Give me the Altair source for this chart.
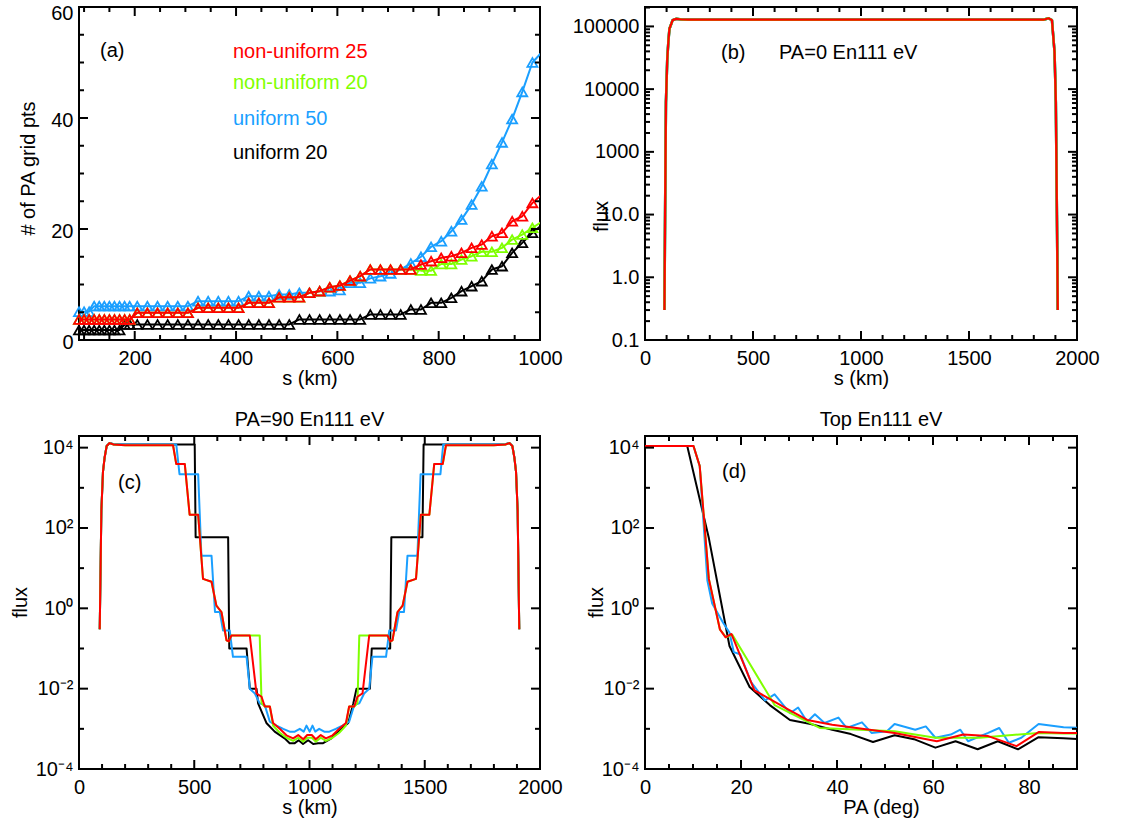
import altair as alt
import pandas as pd

FONT = "Liberation Sans"
FS = 20
WL, WR, H = 461, 432, 333
BLACK, BLUE, GREEN, RED = "#000000", "#1A9FFF", "#7FFF00", "#FF0000"

# ---------------- panel (a): number of PA grid points vs s ----------------
a_s = [90, 100, 110, 120, 130, 140, 150, 160, 170, 180, 190,
       205, 225, 245, 265, 285, 305, 325, 345, 365, 385, 405, 425, 445, 465,
       485, 505, 525, 545, 565, 585, 605, 625, 645, 665, 685, 705, 725, 745,
       765, 785, 805, 825, 845, 865, 885, 905, 925, 945, 965, 985, 1005]
a_nonuni25 = [3.7, 3.7, 3.7, 3.7, 3.7, 3.7, 3.7, 3.7, 3.7, 3.7, 3.7,
              4.9, 4.9, 4.9, 4.9, 4.9, 4.9, 5.8, 5.8, 5.8, 5.8, 5.8, 6.7, 6.7, 6.7,
              7.7, 7.7, 7.7, 8.5, 8.8, 9.5, 9.8, 10.7, 11.5, 12.7, 12.7, 12.7, 12.7, 12.7,
              13.6, 14.2, 14.8, 15.1, 15.7, 16.6, 17.2, 18.7, 19.3, 21.4, 22.3, 24.7, 26.3]
a_nonuni20 = [3.7, 3.7, 3.7, 3.7, 3.7, 3.7, 3.7, 3.7, 3.7, 3.7, 3.7,
              4.9, 4.9, 4.9, 4.9, 4.9, 4.9, 5.8, 5.8, 5.8, 5.8, 5.8, 6.7, 6.7, 6.7,
              7.7, 7.7, 7.7, 8.5, 8.8, 9.5, 9.8, 10.7, 11.5, 12.7, 12.7, 12.7, 12.7, 12.7,
              12.5, 12.5, 13.7, 13.7, 14.5, 15.1, 15.9, 15.9, 16.6, 18.1, 19.0, 20.2, 21.4]
a_uni50 = [5.1, 5.1, 5.1, 6.1, 6.1, 6.1, 6.1, 6.1, 6.1, 6.1, 6.1,
           6.1, 6.1, 6.1, 6.1, 6.1, 6.1, 7.0, 7.0, 7.0, 7.0, 7.0, 7.9, 7.9, 7.9,
           8.2, 8.2, 8.5, 8.5, 8.8, 8.8, 9.0, 10.3, 10.3, 11.1, 11.5, 12.0, 12.7, 13.8,
           15.0, 16.8, 17.8, 19.6, 21.7, 24.4, 27.7, 31.7, 35.6, 39.8, 44.7, 50.0, 52.0]
a_uni20 = [1.8, 1.8, 1.8, 1.8, 1.8, 1.8, 1.8, 1.8, 1.8, 2.8, 2.8,
           2.8, 2.8, 2.8, 2.8, 2.8, 2.8, 2.8, 2.8, 2.8, 2.8, 2.8, 2.8, 2.8, 2.8,
           2.8, 2.8, 3.7, 3.7, 3.7, 3.7, 3.7, 3.7, 3.7, 4.6, 4.6, 4.6, 4.6, 5.5,
           5.5, 6.7, 6.7, 7.6, 8.8, 9.7, 10.6, 12.7, 13.3, 15.7, 17.5, 19.3, 20.8]
a_legend = ["non-uniform 25", "non-uniform 20", "uniform 50", "uniform 20"]

# ---------------- panel (b): PA=0 flux vs s ----------------
b_s = [90, 93, 97, 103, 108, 113, 128, 144, 170, 200, 1000, 1845, 1868, 1884, 1896, 1902, 1907, 1911]
b_flux = [0.3, 10, 620, 3000, 5600, 9100, 12600, 13200, 12900, 12800, 12800, 12800, 13500, 12600,
          3900, 620, 10, 0.3]

# ---------------- panel (c): PA=90 flux vs s ----------------
c_black_s = [90, 97, 104, 111, 120, 133, 150, 200, 502, 506, 647, 652, 727, 741, 770, 777,
             813, 849, 892, 914, 936, 953, 972, 994, 1016, 1037, 1059, 1095, 1124, 1168, 1190, 1204,
             1262, 1270, 1350, 1355, 1490, 1495, 1800, 1850, 1867, 1880, 1889, 1896, 1903, 1910]
c_black_f = [0.3, 270, 2500, 5600, 11000, 13000, 12200, 12000, 12000, 59, 59, 0.1, 0.1, 0.01, 0.01, 0.0043,
             0.0014, 0.00085, 0.00058, 0.00044, 0.00044, 0.00052, 0.00042, 0.00052, 0.00042, 0.00044,
             0.00044, 0.00058, 0.00085, 0.0014, 0.0043, 0.01,
             0.01, 0.1, 0.1, 59, 59, 12000, 12000, 12200, 13000, 11000, 5600, 2500, 270, 0.3]
c_blue_s = [90, 97, 104, 111, 120, 133, 150, 200, 422, 436, 517, 531, 575, 590, 611, 625,
            654, 668, 727, 741, 763, 784, 806, 828, 857, 886, 914, 936, 958, 975, 987, 1001,
            1013, 1025, 1042, 1064, 1086, 1114, 1143, 1172, 1194, 1216, 1237, 1259, 1273, 1332, 1346, 1375,
            1389, 1410, 1425, 1468, 1482, 1568, 1580, 1800, 1850, 1867, 1880, 1889, 1896, 1903, 1910]
c_blue_f = [0.3, 270, 2500, 5600, 11000, 13000, 12200, 12000, 12000, 2190, 2190, 20.4, 20.4, 0.81, 0.81, 0.28,
            0.28, 0.062, 0.062, 0.01, 0.0076, 0.0043, 0.0039, 0.0015, 0.0012, 0.001, 0.00085, 0.00085,
            0.001, 0.00085, 0.0012, 0.00085,
            0.0012, 0.00085, 0.001, 0.00085, 0.00085, 0.001, 0.0012, 0.0015, 0.0039, 0.0043, 0.0076, 0.01,
            0.062, 0.062, 0.28, 0.28,
            0.81, 0.81, 20.4, 20.4, 2190, 2190, 12000, 12000, 12200, 13000, 11000, 5600, 2500, 270, 0.3]
c_green_s = [90, 97, 104, 111, 120, 133, 150, 200, 408, 422, 459, 480, 517, 538, 575, 596,
             618, 640, 650, 661, 784, 792, 806, 828, 842, 871, 900, 929, 951, 973, 990, 1010,
             1027, 1049, 1071, 1100, 1129, 1158, 1172, 1194, 1208, 1216, 1339, 1350, 1360, 1382, 1404, 1425,
             1462, 1483, 1520, 1541, 1578, 1592, 1800, 1850, 1867, 1880, 1889, 1896, 1903, 1910]
c_green_f = [0.3, 270, 2500, 5600, 11000, 13000, 12000, 11500, 11500, 3900, 3900, 214, 214, 5.4, 4.6, 1.17,
             0.81, 0.16, 0.15, 0.21, 0.21, 0.0043, 0.0036, 0.0036, 0.0012, 0.0008, 0.0006, 0.0005,
             0.0006, 0.00048, 0.0006, 0.0006,
             0.00048, 0.0006, 0.0005, 0.0006, 0.0008, 0.0012, 0.0036, 0.0036, 0.0043, 0.21, 0.21, 0.15,
             0.16, 0.81, 1.17, 4.6,
             5.4, 214, 214, 3900, 3900, 11500, 11500, 12000, 13000, 11000, 5600, 2500, 270, 0.3]
c_red_s = [90, 97, 104, 111, 120, 133, 150, 200, 408, 422, 459, 480, 517, 538, 575, 596,
           618, 640, 650, 661, 741, 770, 792, 806, 828, 842, 871, 900, 929, 951, 973, 990,
           1010, 1027, 1049, 1071, 1100, 1129, 1158, 1172, 1194, 1208, 1230, 1259, 1339, 1350, 1360, 1382,
           1404, 1425, 1462, 1483, 1520, 1541, 1578, 1592, 1800, 1850, 1867, 1880, 1889, 1896, 1903, 1910]
c_red_f = [0.3, 270, 2500, 5600, 11000, 13000, 12000, 11500, 11500, 3900, 3900, 214, 214, 5.4, 4.6, 1.17,
           0.81, 0.16, 0.15, 0.21, 0.21, 0.0076, 0.0063, 0.0036, 0.0036, 0.0014, 0.001, 0.00069,
           0.00058, 0.0007, 0.00055, 0.0007,
           0.0007, 0.00055, 0.0007, 0.00058, 0.00069, 0.001, 0.0014, 0.0036, 0.0036, 0.0063, 0.0076, 0.21,
           0.21, 0.15, 0.16, 0.81,
           1.17, 4.6, 5.4, 214, 214, 3900, 3900, 11500, 11500, 12000, 13000, 11000, 5600, 2500, 270, 0.3]

# ---------------- panel (d): flux at top vs PA ----------------
d_black_pa = [0, 8.8, 13.3, 17.6, 21.8, 26.0, 30.2, 34.5, 39.0, 42.9, 47.5, 52.0, 56.3, 60.5,
              64.7, 69.3, 73.5, 77.7, 82.0, 87.2, 90]
d_black_f = [11000, 11000, 56, 0.115, 0.011, 0.0039, 0.00166, 0.00132, 0.00095, 0.00074, 0.00047,
             0.00069, 0.00054, 0.00034, 0.00049, 0.00031, 0.00049, 0.00031, 0.00062, 0.00058, 0.00056]
d_blue_pa = [0, 10.1, 11.4, 13.0, 14.0, 16.3, 17.6, 18.5, 19.8, 22.1, 25.0, 27.0, 30.2, 31.9, 33.8,
             35.4, 37.4, 40.3, 42.0, 45.2, 47.2, 50.4, 52.0, 56.3, 58.5, 60.5, 63.7, 65.7, 67.3,
             71.5, 73.8, 75.8, 78.4, 82.0, 87.2, 90]
d_blue_f = [11000, 11000, 3500, 4.9, 1.32, 0.43, 0.25, 0.081, 0.072, 0.0145, 0.0051, 0.0072,
            0.00245, 0.0034, 0.0015, 0.0023, 0.0014, 0.0019, 0.00105, 0.00145, 0.00079, 0.00087,
            0.00132, 0.00095, 0.00115, 0.0006, 0.00072, 0.00095, 0.00049, 0.00079, 0.00105, 0.00045,
            0.0006, 0.00132, 0.0011, 0.00107]
d_green_pa = [0, 10.1, 11.4, 13.3, 15.6, 16.9, 18.2, 27.0, 36.4, 52.0, 60.5, 69.7, 82.0, 87.2, 90]
d_green_f = [11000, 11000, 3500, 5.4, 0.3, 0.19, 0.22, 0.0039, 0.00105, 0.00087, 0.0006, 0.0006,
             0.00079, 0.00076, 0.00076]
d_red_pa = [0, 10.1, 11.4, 13.3, 15.6, 16.8, 18.0, 22.8, 29.9, 33.8, 39.0, 46.8, 52.0, 60.8,
            66.3, 71.5, 77.4, 82.0, 87.2, 90]
d_red_f = [11000, 11000, 3500, 5.4, 0.3, 0.19, 0.23, 0.0091, 0.003, 0.00166, 0.00126, 0.00095,
           0.00079, 0.00049, 0.00072, 0.00066, 0.00037, 0.00083, 0.00079, 0.00079]

# ---------------- tick positions ----------------
a_xmaj = [200, 400, 600, 800, 1000]
a_xmin = [100, 150, 250, 300, 350, 450, 500, 550, 650, 700, 750, 850, 900, 950]
a_ymaj = [0, 20, 40, 60]
a_ymin = [5, 10, 15, 25, 30, 35, 45, 50, 55]
s_xmaj = [0, 500, 1000, 1500, 2000]
s_xmin = [100, 200, 300, 400, 600, 700, 800, 900, 1100, 1200, 1300, 1400, 1600, 1700, 1800, 1900]
b_ymaj = [0.1, 1, 10, 100, 1000, 10000]
b_ymin = [0.2, 0.3, 0.4, 0.5, 0.6, 0.7, 0.8, 0.9, 2, 3, 4, 5, 6, 7, 8, 9,
          20, 30, 40, 50, 60, 70, 80, 90, 200, 300, 400, 500, 600, 700, 800, 900,
          2000, 3000, 4000, 5000, 6000, 7000, 8000, 9000, 20000]
f_ymaj = [1e-4, 1e-2, 1, 1e2, 1e4]
f_ymin = [1e-3, 1e-1, 10, 1e3]
d_xmaj = [0, 20, 40, 60, 80]
d_xmin = [5, 10, 15, 25, 30, 35, 45, 50, 55, 65, 70, 75, 85, 90]

B_LABELS = ("datum.value > 5000 ? '100000' : datum.value > 500 ? '10000' : datum.value > 50 ? '1000' : "
            "datum.value > 5 ? '10.0' : datum.value > 0.5 ? '1.0' : '0.1'")
F_LABELS = ("datum.value > 5000 ? '10\u2074' : datum.value > 50 ? '10\u00b2' : datum.value > 0.5 ? '10\u2070' : "
            "datum.value > 0.005 ? '10\u207b\u00b2' : '10\u207b\u2074'")


def xlab_axis(values, title, w, tx=None):
    return alt.Axis(orient="bottom", values=values, format="d", ticks=False, tickSize=0, domain=False,
                    grid=False, labelFont=FONT, labelFontSize=FS, labelColor="black", labelPadding=8,
                    labelFlush=False, labelOverlap=False, title=title, titleFont=FONT, titleFontSize=FS,
                    titleFontWeight="normal", titleColor="black", titleBaseline="alphabetic",
                    titleY=44, titleX=(w / 2 if tx is None else tx))


def ylab_axis(values, title, tx, ty, expr=None, offset=None):
    kw = dict(orient="left", values=values, ticks=False, tickSize=0, domain=False, grid=False,
              labelFont=FONT, labelFontSize=FS, labelColor="black", labelPadding=6,
              labelOverlap=False, title=title, titleFont=FONT, titleFontSize=FS,
              titleFontWeight="normal", titleColor="black", titleAngle=270, titleAlign="center",
              titleBaseline="alphabetic", titleX=tx, titleY=ty)
    if expr:
        kw["labelExpr"] = expr
    if offset is not None:
        kw["labelOffset"] = offset
    return alt.Axis(**kw)


def tick_rules(xsc, ysc, xmaj, xmin, ymaj, ymin, w):
    """Inward-pointing tick marks on all four sides, placed through the panel's scales."""
    out = []
    for vals, ln in [(xmaj, 9), (xmin, 5)]:
        d = pd.DataFrame({"v": vals})
        xenc = alt.X("v:Q", scale=xsc, axis=None)
        out.append(alt.Chart(d).mark_rule(color="black", strokeWidth=2).encode(
            x=xenc, y=alt.value(H), y2=alt.value(H - ln)))
        out.append(alt.Chart(d).mark_rule(color="black", strokeWidth=2).encode(
            x=xenc, y=alt.value(0), y2=alt.value(ln)))
    for vals, ln in [(ymaj, 9), (ymin, 5)]:
        d = pd.DataFrame({"v": vals})
        yenc = alt.Y("v:Q", scale=ysc, axis=None)
        out.append(alt.Chart(d).mark_rule(color="black", strokeWidth=2).encode(
            y=yenc, x=alt.value(0), x2=alt.value(ln)))
        out.append(alt.Chart(d).mark_rule(color="black", strokeWidth=2).encode(
            y=yenc, x=alt.value(w), x2=alt.value(w - ln)))
    return out


def line(df, xf, yf, color, xsc, ysc, width=2.0, xaxis=None, yaxis=None):
    return alt.Chart(df).mark_line(color=color, strokeWidth=width, clip=True, strokeJoin="round").encode(
        x=alt.X(f"{xf}:Q", scale=xsc, axis=xaxis),
        y=alt.Y(f"{yf}:Q", scale=ysc, axis=yaxis))


def text(t, x, y, color="black", align="left"):
    return alt.Chart(pd.DataFrame({"t": [t]})).mark_text(
        align=align, baseline="alphabetic", font=FONT, fontSize=FS, color=color).encode(
        text="t:N", x=alt.value(x), y=alt.value(y))


def panel(layers, ticks, texts, w):
    return alt.layer(*layers, *ticks, *texts).resolve_axis(
        x="independent", y="independent").properties(width=w, height=H)


# ---------- (a)
dfa = pd.DataFrame({"s": a_s, "nu25": a_nonuni25, "nu20": a_nonuni20, "u50": a_uni50, "u20": a_uni20})
xs_a = alt.Scale(domain=[90, 1000], nice=False, zero=False)
ys_a = alt.Scale(domain=[0, 60], nice=False, zero=False)
layers_a = []
for i, (field, col) in enumerate([("u20", BLACK), ("u50", BLUE), ("nu20", GREEN), ("nu25", RED)]):
    if i == 0:
        xa = xlab_axis(a_xmaj, "s (km)", WL)
        ya = ylab_axis(a_ymaj, "# of PA grid pts", -45, 161,
                       offset={"condition": {"test": "datum.value > 50", "value": 6}, "value": 2})
    else:
        xa = ya = None
    layers_a.append(line(dfa, "s", field, col, xs_a, ys_a, 2.0, xa, ya))
    layers_a.append(alt.Chart(dfa).transform_filter("datum.s < 1000").mark_point(
        shape="triangle-up", filled=False, size=100, strokeWidth=1.8, color=col, opacity=1).encode(
        x=alt.X("s:Q", scale=xs_a, axis=None), y=alt.Y(f"{field}:Q", scale=ys_a, axis=None)))
texts_a = [text("(a)", 21, 50),
           text(a_legend[0], 154, 51, RED), text(a_legend[1], 154, 82, GREEN),
           text(a_legend[2], 154, 118, BLUE), text(a_legend[3], 154, 152, BLACK)]
pa = panel(layers_a, tick_rules(xs_a, ys_a, a_xmaj, a_xmin, a_ymaj, a_ymin, WL), texts_a, WL)

# ---------- (b)
dfb = pd.DataFrame({"s": b_s, "flux": b_flux})
xs_s = alt.Scale(domain=[0, 2000], nice=False, zero=False)
ys_b = alt.Scale(type="log", domain=[0.1, 20400], nice=False)
layers_b = [line(dfb, "s", "flux", BLACK, xs_s, ys_b, 2.5, xlab_axis(s_xmaj, "s (km)", WR),
                 ylab_axis(b_ymaj, "flux", -38, 209, B_LABELS)),
            line(dfb, "s", "flux", BLUE, xs_s, ys_b, 2.5),
            line(dfb, "s", "flux", GREEN, xs_s, ys_b, 2.5),
            line(dfb, "s", "flux", RED, xs_s, ys_b, 2.2)]
texts_b = [text("(b)", 76, 52), text("PA=0 En111 eV", 134, 52)]
pb = panel(layers_b, tick_rules(xs_s, ys_b, s_xmaj, s_xmin, b_ymaj, b_ymin, WR), texts_b, WR)

# ---------- (c)
ys_f = alt.Scale(type="log", domain=[1e-4, 19500], nice=False)
dfc_k = pd.DataFrame({"s": c_black_s, "flux": c_black_f})
dfc_b = pd.DataFrame({"s": c_blue_s, "flux": c_blue_f})
dfc_g = pd.DataFrame({"s": c_green_s, "flux": c_green_f})
dfc_r = pd.DataFrame({"s": c_red_s, "flux": c_red_f})
layers_c = [line(dfc_k, "s", "flux", BLACK, xs_s, ys_f, 2.0, xlab_axis(s_xmaj, "s (km)", WL),
                 ylab_axis(f_ymaj, "flux", -53, 166, F_LABELS)),
            line(dfc_b, "s", "flux", BLUE, xs_s, ys_f),
            line(dfc_g, "s", "flux", GREEN, xs_s, ys_f),
            line(dfc_r, "s", "flux", RED, xs_s, ys_f)]
texts_c = [text("(c)", 39, 53), text("PA=90 En111 eV", WL / 2, -10, align="center")]
pc = panel(layers_c, tick_rules(xs_s, ys_f, s_xmaj, s_xmin, f_ymaj, f_ymin, WL), texts_c, WL)

# ---------- (d)
xs_d = alt.Scale(domain=[0, 90], nice=False, zero=False)
dfd_k = pd.DataFrame({"pa": d_black_pa, "flux": d_black_f})
dfd_b = pd.DataFrame({"pa": d_blue_pa, "flux": d_blue_f})
dfd_g = pd.DataFrame({"pa": d_green_pa, "flux": d_green_f})
dfd_r = pd.DataFrame({"pa": d_red_pa, "flux": d_red_f})
layers_d = [line(dfd_k, "pa", "flux", BLACK, xs_d, ys_f, 2.0, xlab_axis(d_xmaj, "PA (deg)", WR, 236),
                 ylab_axis(f_ymaj, "flux", -43, 166, F_LABELS)),
            line(dfd_b, "pa", "flux", BLUE, xs_d, ys_f),
            line(dfd_g, "pa", "flux", GREEN, xs_d, ys_f),
            line(dfd_r, "pa", "flux", RED, xs_d, ys_f)]
texts_d = [text("(d)", 77, 42), text("Top En111 eV", 236, -10, align="center")]
pd_ = panel(layers_d, tick_rules(xs_d, ys_f, d_xmaj, d_xmin, f_ymaj, f_ymin, WR), texts_d, WR)

chart = alt.concat(pa, pb, pc, pd_, columns=2, spacing={"row": 96, "column": 105}, bounds="flush")
chart = chart.configure_view(stroke="black", strokeWidth=2).properties(
    padding={"left": 9, "top": 2, "right": 5, "bottom": 5}, background="white")

chart.save("out.html", embed_options={"renderer": "svg", "actions": False})
